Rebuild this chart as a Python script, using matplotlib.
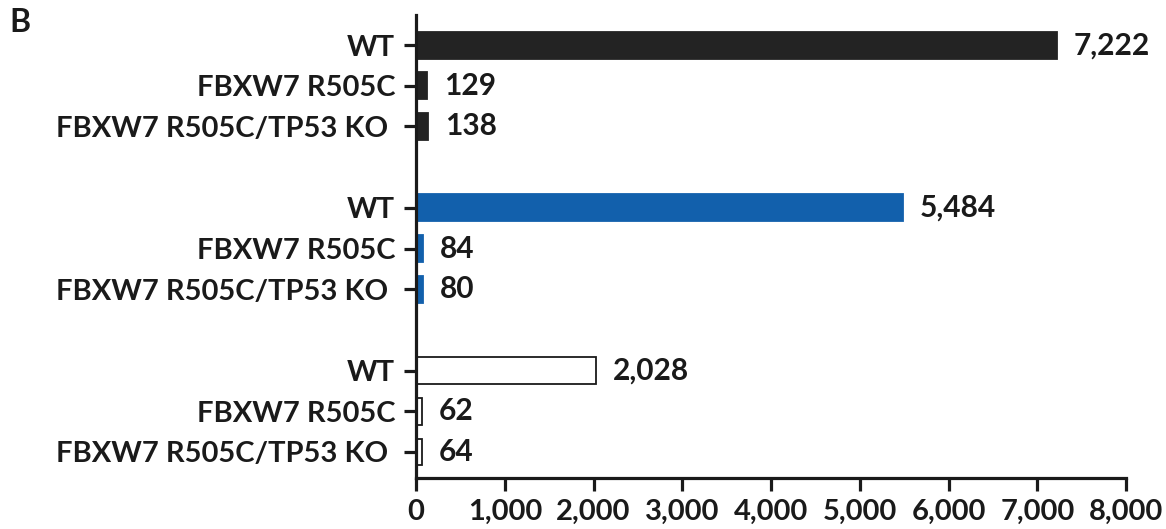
import matplotlib
matplotlib.use("Agg")
import matplotlib.pyplot as plt
from matplotlib.ticker import FuncFormatter

labels = ["WT", "FBXW7 R505C", "FBXW7 R505C/TP53 KO "] * 3
values = [7222, 129, 138, 5484, 84, 80, 2028, 62, 64]
positions = [0, 1, 2, 4, 5, 6, 8, 9, 10]
face_colors = ["#232323"] * 3 + ["#1260ac"] * 3 + ["#ffffff"] * 3
edge_colors = ["#232323"] * 3 + ["#1260ac"] * 3 + ["#1a1a1a"] * 3
xticks = [0, 1000, 2000, 3000, 4000, 5000, 6000, 7000, 8000]

plt.rcParams['font.family'] = ['Lato', 'DejaVu Sans']
plt.rcParams['font.weight'] = 'bold'

fig = plt.figure(figsize=(11.66, 5.29), dpi=100)
ax = fig.add_axes([0.3568, 0.0964, 0.6089, 0.8752])

ax.barh(positions, values, height=0.66, color=face_colors,
        edgecolor=edge_colors, linewidth=1.3)
for p, v in zip(positions, values):
    ax.text(v + 190, p, f"{v:,}", va="center", ha="left", fontsize=21.5,
            fontweight="bold", color="#1a1a1a")

ax.set_ylim(10.64, -0.74)
ax.set_xlim(0, 8000)
ax.set_yticks(positions)
ax.set_yticklabels(labels, fontsize=21, fontweight="bold")
ax.set_xticks(xticks)
ax.xaxis.set_major_formatter(FuncFormatter(lambda x, _: f"{int(x):,}"))
for lab in ax.get_xticklabels():
    lab.set_fontsize(21)
    lab.set_fontweight("bold")

for s in ["top", "right"]:
    ax.spines[s].set_visible(False)
for s in ["left", "bottom"]:
    ax.spines[s].set_linewidth(2.3)
    ax.spines[s].set_color("#1a1a1a")
ax.tick_params(axis="y", length=9, width=2.3, pad=6, colors="#1a1a1a")
ax.tick_params(axis="x", length=9, width=2.3, pad=6, colors="#1a1a1a")

fig.text(0.008, 0.985, "B", fontsize=23, fontweight="bold", va="top", ha="left",
         color="#1a1a1a")

fig.savefig("out.png", dpi=100)
